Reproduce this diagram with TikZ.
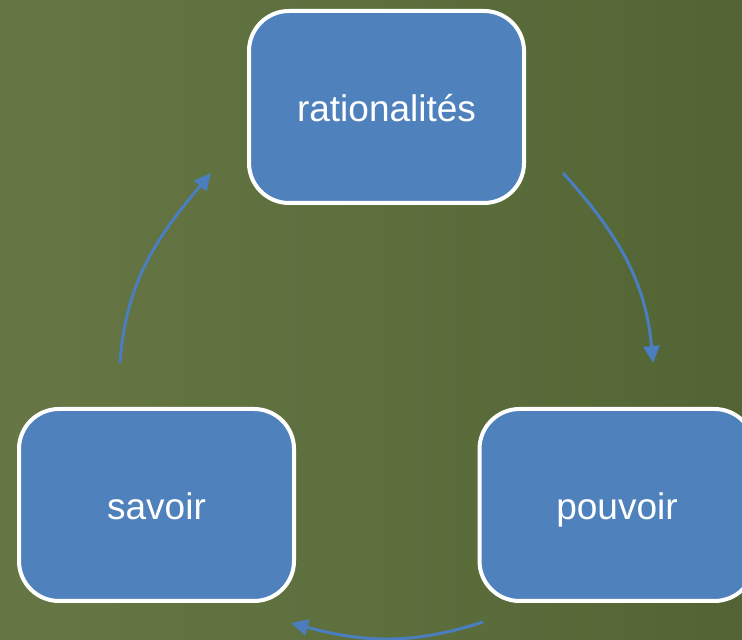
\documentclass[tikz,border=0pt]{standalone}
\usepackage{fontspec}
\setmainfont{Liberation Sans}
\usetikzlibrary{arrows.meta}

\definecolor{boxblue}{HTML}{4F81BD}
\definecolor{arrowblue}{HTML}{4A7EBF}
\definecolor{bgleft}{HTML}{677645}
\definecolor{bgmid}{HTML}{5C6F3D}
\definecolor{bgright}{HTML}{526433}

\tikzset{
  bloc/.style={draw=white, line width=4pt, fill=boxblue, rounded corners=40pt,
    minimum width=275pt, minimum height=192pt, text=white,
    text height=37pt, text depth=8pt,
    font=\fontsize{37}{40}\selectfont},
  fleche/.style={draw=arrowblue, line width=3pt,
    -{Triangle[length=17pt,width=16pt]}}
}

\begin{document}
\begin{tikzpicture}[x=1pt,y=1pt]
    \useasboundingbox (0,0) rectangle (742,640);
    \clip (0,0) rectangle (742,640);
    \shade[left color=bgleft, right color=bgright, middle color=bgmid] (0,0) rectangle (742,640);

    \node[bloc] (rat) at (386.5,533) {rationalités};
    \node[bloc] (sav) at (156.5,135) {savoir};
    \node[bloc] (pou) at (617,135)   {pouvoir};

    \coordinate (rp1) at (563,467);
    \coordinate (rp2) at (653,277);
    \coordinate (ps1) at (483,18);
    \coordinate (ps2) at (291,17);
    \coordinate (sr1) at (120,277);
    \coordinate (sr2) at (211,467);

    \draw[fleche] (rp1) to[out=-48,in=95] (rp2);
    \draw[fleche] (ps1) to[out=-162,in=-15] (ps2);
    \draw[fleche] (sr1) to[out=86,in=-130] (sr2);
  \end{tikzpicture}
\end{document}
